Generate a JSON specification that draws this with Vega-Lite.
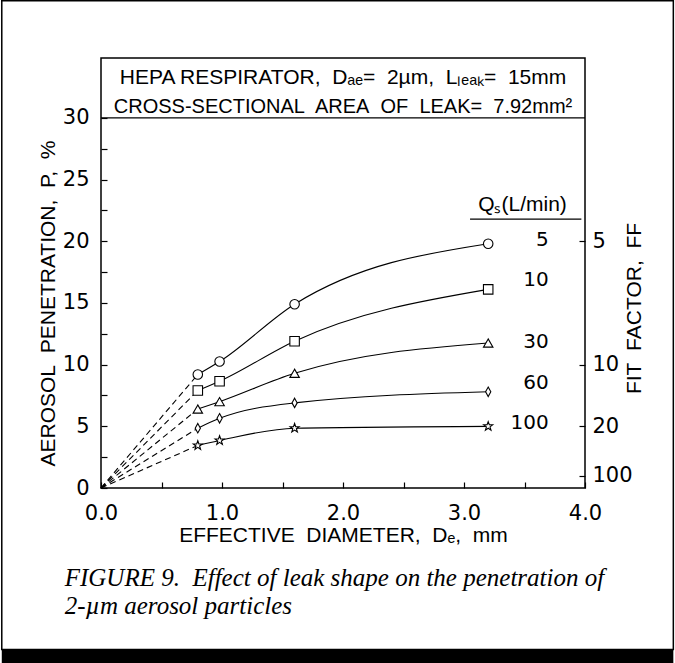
{
  "$schema": "https://vega.github.io/schema/vega-lite/v6.json",
  "width": 484,
  "height": 430,
  "autosize": "none",
  "padding": {"left": 101, "top": 58, "right": 90, "bottom": 175},
  "background": "white",
  "config": {
    "view": {"stroke": "black", "strokeWidth": 1.5},
    "font": "Liberation Sans",
    "axis": {
      "labelFont": "DejaVu Sans", "labelFontSize": 21, "labelColor": "black",
      "titleFont": "Liberation Sans", "titleFontSize": 21, "titleFontWeight": "normal", "titleColor": "black",
      "tickColor": "black", "tickSize": -6, "tickWidth": 1.2, "grid": false, "domain": false,
      "labelFlush": false, "labelOverlap": false, "labelBound": false
    }
  },
  "datasets": {
    "pts": [
      {"D": 0.8, "P": 9.2, "Q": "5"}, {"D": 0.98, "P": 10.25, "Q": "5"}, {"D": 1.6, "P": 14.9, "Q": "5"}, {"D": 3.2, "P": 19.8, "Q": "5"},
      {"D": 0.8, "P": 7.9, "Q": "10"}, {"D": 0.98, "P": 8.65, "Q": "10"}, {"D": 1.6, "P": 11.9, "Q": "10"}, {"D": 3.2, "P": 16.1, "Q": "10"},
      {"D": 0.8, "P": 6.4, "Q": "30"}, {"D": 0.98, "P": 7.0, "Q": "30"}, {"D": 1.6, "P": 9.3, "Q": "30"}, {"D": 3.2, "P": 11.75, "Q": "30"},
      {"D": 0.8, "P": 4.85, "Q": "60"}, {"D": 0.98, "P": 5.65, "Q": "60"}, {"D": 1.6, "P": 6.9, "Q": "60"}, {"D": 3.2, "P": 7.8, "Q": "60"},
      {"D": 0.8, "P": 3.45, "Q": "100"}, {"D": 0.98, "P": 3.85, "Q": "100"}, {"D": 1.6, "P": 4.85, "Q": "100"}, {"D": 3.2, "P": 5.0, "Q": "100"}
    ],
    "dash": [
      {"D": 0, "P": 0, "Q": "5"}, {"D": 0.8, "P": 9.2, "Q": "5"},
      {"D": 0, "P": 0, "Q": "10"}, {"D": 0.8, "P": 7.9, "Q": "10"},
      {"D": 0, "P": 0, "Q": "30"}, {"D": 0.8, "P": 6.4, "Q": "30"},
      {"D": 0, "P": 0, "Q": "60"}, {"D": 0.8, "P": 4.85, "Q": "60"},
      {"D": 0, "P": 0, "Q": "100"}, {"D": 0.8, "P": 3.45, "Q": "100"}
    ],
    "labels": [
      {"D": 3.7, "P": 20.1, "Q": "5"},
      {"D": 3.7, "P": 16.9, "Q": "10"},
      {"D": 3.7, "P": 11.8, "Q": "30"},
      {"D": 3.7, "P": 8.5, "Q": "60"},
      {"D": 3.7, "P": 5.3, "Q": "100"}
    ],
    "head": [{"D": 3.85, "P": 22.95, "t": "Qₛ(L/min)", "D1": 3.05, "D2": 3.97, "PL": 21.8}],
    "box1": [{"D": 2.0, "P": 33.24, "t": "HEPA RESPIRATOR,\u00a0 Dₐₑ=\u00a0 2µm,\u00a0 Lₗₑₐₖ=\u00a0 15mm"}],
    "box2": [{"D": 2.0, "P": 30.9, "t": "CROSS-SECTIONAL\u00a0 AREA\u00a0 OF\u00a0 LEAK=\u00a0 7.92mm²"}],
    "cap": [
      {"D": -0.3, "P": -7.3, "t": "FIGURE 9.\u00a0 Effect of leak shape on the penetration of"},
      {"D": -0.3, "P": -9.6, "t": "2-µm aerosol particles"}
    ]
  },
  "resolve": {"axis": {"x": "independent", "y": "independent"}},
  "layer": [
    {
      "data": {"values": [{}]},
      "mark": {"type": "rect", "fill": null, "stroke": "black", "strokeWidth": 1.5},
      "encoding": {
        "x": {"datum": -0.82, "type": "quantitative", "scale": {"domain": [0, 4], "nice": false},
          "axis": {"values": [0, 0.5, 1, 1.5, 2, 2.5, 3, 3.5, 4],
            "labelExpr": "datum.value % 1 == 0 ? format(datum.value, '.1f') : ''",
            "labelPadding": 20, "title": "EFFECTIVE\u00a0 DIAMETER,\u00a0 Dₑ,\u00a0 mm",
            "titleY": 47, "titleAnchor": "middle", "titleBaseline": "middle"}},
        "x2": {"datum": 4.73},
        "y": {"datum": 39.5, "type": "quantitative", "scale": {"domain": [0, 34.86], "nice": false}, "axis": null},
        "y2": {"datum": -13.1}
      }
    },
    {
      "data": {"values": [{}]},
      "mark": {"type": "rect", "fill": "black", "stroke": null},
      "encoding": {
        "x": {"datum": -0.82, "type": "quantitative", "axis": null},
        "x2": {"datum": 4.73},
        "y": {"datum": -13.1, "type": "quantitative", "axis": null},
        "y2": {"datum": -14.4}
      }
    },
    {
      "data": {"values": [{}]},
      "mark": {"type": "rule", "stroke": "black", "strokeWidth": 1.3},
      "encoding": {"y": {"datum": 30, "type": "quantitative", "axis": null}}
    },
    {
      "data": {"name": "dash"},
      "mark": {"type": "line", "stroke": "black", "strokeWidth": 1.1, "strokeDash": [6, 4]},
      "encoding": {
        "x": {"field": "D", "type": "quantitative", "axis": null},
        "y": {"field": "P", "type": "quantitative",
          "axis": {"orient": "right", "values": [20, 10, 5, 1], "labelExpr": "format(100/datum.value, 'd')",
            "labelPadding": 13, "labelAlign": "left", "title": "FIT\u00a0 FACTOR,\u00a0 FF", "titleAngle": 270,
            "titleX": 49, "titleY": 250, "titleAlign": "center", "titleBaseline": "middle"}},
        "detail": {"field": "Q"}
      }
    },
    {
      "data": {"name": "pts"},
      "mark": {"type": "line", "stroke": "black", "strokeWidth": 1.1, "interpolate": "monotone"},
      "encoding": {
        "x": {"field": "D", "type": "quantitative", "axis": null},
        "y": {"field": "P", "type": "quantitative",
          "axis": {"values": [0, 2.5, 5, 7.5, 10, 12.5, 15, 17.5, 20, 22.5, 25, 27.5, 30],
            "labelExpr": "datum.value % 5 == 0 ? datum.label : ''",
            "labelPadding": 18, "title": "AEROSOL\u00a0 PENETRATION,\u00a0 P,\u00a0 %", "titleAngle": 270,
            "titleX": -53, "titleY": 245, "titleAlign": "center", "titleBaseline": "middle"}},
        "detail": {"field": "Q"}
      }
    },
    {
      "data": {"name": "pts"},
      "mark": {"type": "point", "filled": false, "stroke": "black", "strokeWidth": 1.1, "size": 90, "fill": "white", "fillOpacity": 1},
      "encoding": {
        "x": {"field": "D", "type": "quantitative", "axis": null},
        "y": {"field": "P", "type": "quantitative", "axis": null},
        "shape": {"field": "Q", "type": "nominal", "legend": null,
          "scale": {"domain": ["5", "10", "30", "60", "100"],
            "range": ["circle", "square", "triangle-up", "M0,-1L0.55,0L0,1L-0.55,0Z",
              "M0,-1L0.235,-0.324L0.951,-0.309L0.380,0.124L0.588,0.809L0,0.4L-0.588,0.809L-0.380,0.124L-0.951,-0.309L-0.235,-0.324Z"]}}
      }
    },
    {
      "data": {"name": "labels"},
      "mark": {"type": "text", "align": "right", "baseline": "middle", "fontSize": 20, "font": "DejaVu Sans", "color": "black"},
      "encoding": {
        "x": {"field": "D", "type": "quantitative", "axis": null},
        "y": {"field": "P", "type": "quantitative", "axis": null},
        "text": {"field": "Q"}
      }
    },
    {
      "data": {"name": "head"},
      "mark": {"type": "text", "align": "right", "baseline": "middle", "fontSize": 21, "font": "Liberation Sans", "color": "black"},
      "encoding": {
        "x": {"field": "D", "type": "quantitative", "axis": null},
        "y": {"field": "P", "type": "quantitative", "axis": null},
        "text": {"field": "t"}
      }
    },
    {
      "data": {"name": "head"},
      "mark": {"type": "rule", "stroke": "black", "strokeWidth": 1.2},
      "encoding": {
        "x": {"field": "D1", "type": "quantitative", "axis": null},
        "x2": {"field": "D2"},
        "y": {"field": "PL", "type": "quantitative", "axis": null}
      }
    },
    {
      "data": {"name": "box1"},
      "mark": {"type": "text", "align": "center", "baseline": "middle", "fontSize": 21, "font": "Liberation Sans", "color": "black"},
      "encoding": {
        "x": {"field": "D", "type": "quantitative", "axis": null},
        "y": {"field": "P", "type": "quantitative", "axis": null},
        "text": {"field": "t"}
      }
    },
    {
      "data": {"name": "box2"},
      "mark": {"type": "text", "align": "center", "baseline": "middle", "fontSize": 20, "font": "Liberation Sans", "color": "black"},
      "encoding": {
        "x": {"field": "D", "type": "quantitative", "axis": null},
        "y": {"field": "P", "type": "quantitative", "axis": null},
        "text": {"field": "t"}
      }
    },
    {
      "data": {"name": "cap"},
      "mark": {"type": "text", "align": "left", "baseline": "middle", "fontSize": 25, "font": "Liberation Serif", "fontStyle": "italic", "color": "black"},
      "encoding": {
        "x": {"field": "D", "type": "quantitative", "axis": null},
        "y": {"field": "P", "type": "quantitative", "axis": null},
        "text": {"field": "t"}
      }
    }
  ]
}
